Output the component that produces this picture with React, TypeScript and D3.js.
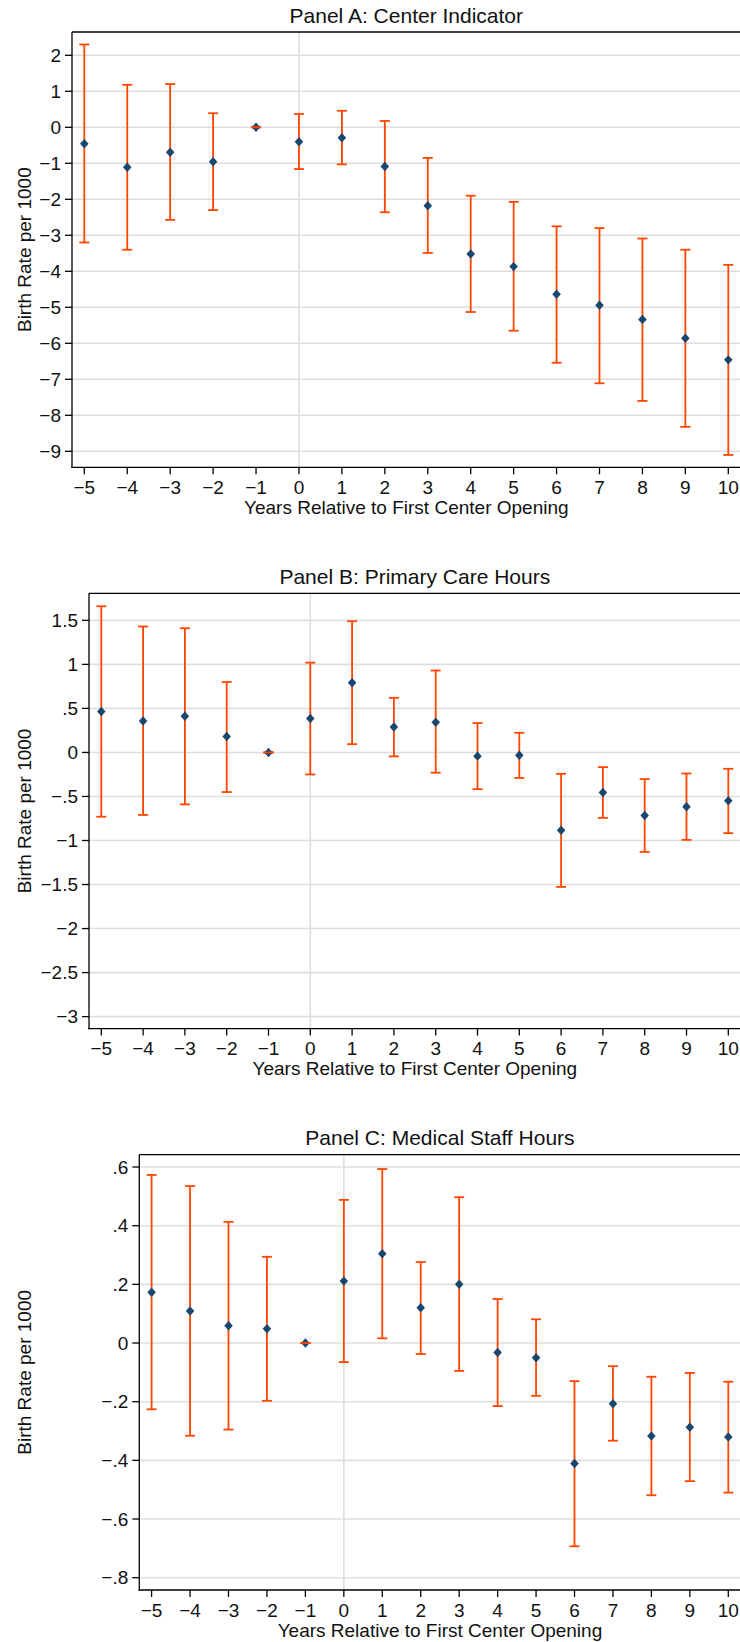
import React from "react";
import * as d3 from "d3";

// Event-time grid shared by all three panels
const years = [-5, -4, -3, -2, -1, 0, 1, 2, 3, 4, 5, 6, 7, 8, 9, 10];

// Panel A: Center Indicator
const centerCoef = [-0.46, -1.11, -0.69, -0.96, 0, -0.4, -0.29, -1.09, -2.18, -3.52, -3.87, -4.64, -4.94, -5.34, -5.86, -6.46];
const centerUpper = [2.3, 1.18, 1.2, 0.39, 0, 0.37, 0.46, 0.175, -0.85, -1.9, -2.07, -2.75, -2.8, -3.09, -3.4, -3.82];
const centerLower = [-3.2, -3.4, -2.57, -2.3, 0, -1.16, -1.03, -2.36, -3.49, -5.13, -5.65, -6.54, -7.11, -7.6, -8.32, -9.1];
const centerTicks = [2, 1, 0, -1, -2, -3, -4, -5, -6, -7, -8, -9];

// Panel B: Primary Care Hours
const primaryCoef = [0.466, 0.356, 0.41, 0.18, 0, 0.386, 0.79, 0.288, 0.344, -0.042, -0.031, -0.883, -0.455, -0.716, -0.618, -0.55];
const primaryUpper = [1.66, 1.43, 1.41, 0.8, 0, 1.02, 1.49, 0.62, 0.93, 0.333, 0.223, -0.243, -0.167, -0.303, -0.239, -0.186];
const primaryLower = [-0.73, -0.71, -0.59, -0.45, 0, -0.25, 0.094, -0.045, -0.23, -0.417, -0.29, -1.527, -0.743, -1.13, -0.993, -0.917];
const primaryTicks = [1.5, 1, 0.5, 0, -0.5, -1, -1.5, -2, -2.5, -3];

// Panel C: Medical Staff Hours
const staffCoef = [0.173, 0.109, 0.059, 0.049, 0, 0.211, 0.304, 0.12, 0.2, -0.032, -0.05, -0.411, -0.207, -0.317, -0.287, -0.32];
const staffUpper = [0.573, 0.535, 0.413, 0.294, 0, 0.488, 0.593, 0.276, 0.497, 0.15, 0.081, -0.13, -0.079, -0.115, -0.102, -0.132];
const staffLower = [-0.226, -0.316, -0.295, -0.197, 0, -0.065, 0.016, -0.0375, -0.095, -0.215, -0.18, -0.693, -0.333, -0.519, -0.471, -0.51];
const staffTicks = [0.6, 0.4, 0.2, 0, -0.2, -0.4, -0.6, -0.8];

const xTitle = "Years Relative to First Center Opening";
const yTitle = "Birth Rate per 1000";

const FONT = "'Liberation Sans', Arial, Helvetica, sans-serif";
const NAVY = "#1a476f";
const ORANGE = "#ff4500";
const GRID = "#dedede";

// Stata-style number labels: true minus sign, no leading zero
function fmt(v: number): string {
  const s = String(Math.abs(v)).replace(/^0\./, ".");
  return v < 0 ? "\u2212" + s : s;
}

// Diamond marker, slightly taller than wide
const diamondSymbol = {
  draw(ctx: d3.Path, size: number) {
    const h = Math.sqrt(size) / 2;
    const w = h * 0.9;
    ctx.moveTo(0, -h);
    ctx.lineTo(w, 0);
    ctx.lineTo(0, h);
    ctx.lineTo(-w, 0);
    ctx.closePath();
  },
};

type PanelProps = {
  title: string;
  coef: number[];
  lower: number[];
  upper: number[];
  ticks: number[];
  yDomain: [number, number];
  left: number;
  top: number;
};

function Panel({ title, coef, lower, upper, ticks, yDomain, left, top }: PanelProps) {
  const right = 740.6;
  const height = 435.3;
  const bottom = top + height;
  const pad = 12.3;
  const x = d3.scaleLinear().domain([-5, 10]).range([left + pad, right - pad]);
  const y = d3.scaleLinear().domain(yDomain).range([bottom, top]);
  const cx = (left + right) / 2;
  const diamond = d3.symbol().type(diamondSymbol as any).size(90)() as string;

  return (
    <g>
      <text x={cx} y={top - 9.3} textAnchor="middle" fontSize={21} fontFamily={FONT} fill="#111">
        {title}
      </text>

      {/* horizontal gridlines */}
      {ticks.map((t) => (
        <line key={"g" + t} x1={left} x2={right} y1={y(t)} y2={y(t)} stroke={GRID} strokeWidth={1.6} />
      ))}
      {/* reference line at event time zero */}
      <line x1={x(0)} x2={x(0)} y1={top} y2={bottom} stroke={GRID} strokeWidth={1.6} />

      {/* confidence intervals with caps */}
      {years.map((yr, i) => (
        <g key={"e" + yr} stroke={ORANGE} strokeWidth={1.8}>
          <line x1={x(yr)} x2={x(yr)} y1={y(upper[i])} y2={y(lower[i])} />
          <line x1={x(yr) - 5} x2={x(yr) + 5} y1={y(upper[i])} y2={y(upper[i])} />
          <line x1={x(yr) - 5} x2={x(yr) + 5} y1={y(lower[i])} y2={y(lower[i])} />
        </g>
      ))}

      {/* point estimates */}
      {years.map((yr, i) => (
        <path key={"m" + yr} d={diamond} transform={`translate(${x(yr)},${y(coef[i])})`} fill={NAVY} />
      ))}

      {/* zero-width interval at the reference year sits over its marker */}
      {years.map((yr, i) =>
        upper[i] === lower[i] ? (
          <line key={"z" + yr} x1={x(yr) - 5} x2={x(yr) + 5} y1={y(upper[i])} y2={y(upper[i])} stroke={ORANGE} strokeWidth={1.8} />
        ) : null
      )}

      {/* frame (its right side falls just past the page edge) */}
      <line x1={left} x2={right} y1={top} y2={top} stroke="#000" strokeWidth={1.3} />
      <line x1={left} x2={left} y1={top} y2={bottom + 0.65} stroke="#000" strokeWidth={1.3} />
      <line x1={left - 0.65} x2={right} y1={bottom} y2={bottom} stroke="#000" strokeWidth={1.3} />

      {/* y axis ticks and labels */}
      {ticks.map((t) => (
        <g key={"y" + t}>
          <line x1={left - 7} x2={left} y1={y(t)} y2={y(t)} stroke="#000" strokeWidth={1.3} />
          <text x={left - 11} y={y(t) + 6.8} textAnchor="end" fontSize={19} fontFamily={FONT} fill="#111">
            {fmt(t)}
          </text>
        </g>
      ))}

      {/* x axis ticks and labels */}
      {years.map((yr) => (
        <g key={"x" + yr}>
          <line x1={x(yr)} x2={x(yr)} y1={bottom} y2={bottom + 7} stroke="#000" strokeWidth={1.3} />
          <text x={x(yr)} y={bottom + 26.5} textAnchor="middle" fontSize={19} fontFamily={FONT} fill="#111">
            {fmt(yr)}
          </text>
        </g>
      ))}

      <text x={cx} y={bottom + 46.5} textAnchor="middle" fontSize={19} fontFamily={FONT} fill="#111">
        {xTitle}
      </text>
      <text
        transform={`translate(30.5,${(top + bottom) / 2}) rotate(-90)`}
        textAnchor="middle"
        fontSize={19}
        fontFamily={FONT}
        fill="#111"
      >
        {yTitle}
      </text>
    </g>
  );
}

export default function App() {
  return (
    <svg
      width={740}
      height={1642}
      viewBox="0 0 740 1642"
      style={{ position: "absolute", left: 0, top: 0, background: "#fff" }}
    >
      <rect x={0} y={0} width={740} height={1642} fill="#fff" />
      <Panel
        title="Panel A: Center Indicator"
        coef={centerCoef}
        lower={centerLower}
        upper={centerUpper}
        ticks={centerTicks}
        yDomain={[-9.444, 2.647]}
        left={72}
        top={32}
      />
      <Panel
        title="Panel B: Primary Care Hours"
        coef={primaryCoef}
        lower={primaryLower}
        upper={primaryUpper}
        ticks={primaryTicks}
        yDomain={[-3.136, 1.807]}
        left={89}
        top={593.3}
      />
      <Panel
        title="Panel C: Medical Staff Hours"
        coef={staffCoef}
        lower={staffLower}
        upper={staffUpper}
        ticks={staffTicks}
        yDomain={[-0.842, 0.642]}
        left={139.3}
        top={1154.7}
      />
    </svg>
  );
}
